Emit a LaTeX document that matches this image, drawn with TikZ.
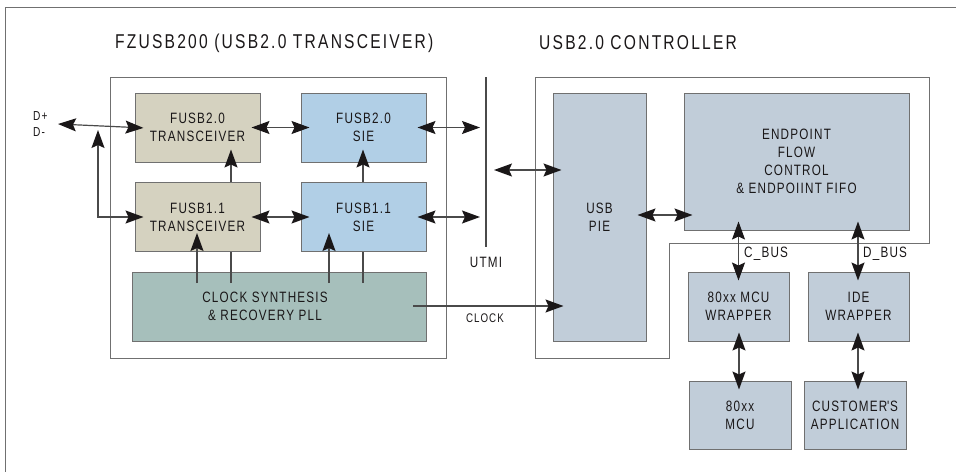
\documentclass[tikz,border=0pt]{standalone}
\usepackage{fontspec}
\setmainfont{Liberation Sans}[FakeStretch=0.78,LetterSpace=8]
\usetikzlibrary{arrows.meta}
\definecolor{trcol}{HTML}{D5D2C0}
\definecolor{siecol}{HTML}{B1CFE6}
\definecolor{pllcol}{HTML}{A6BFBB}
\definecolor{ctlcol}{HTML}{C1CDD9}
\definecolor{boxline}{HTML}{707070}
\definecolor{wire}{HTML}{4A4A4A}
\definecolor{ink}{HTML}{1A1718}
\newcommand{\bothways}{{Stealth[length=18pt,width=13pt,inset=3pt,color=ink]}-{Stealth[length=18pt,width=13pt,inset=3pt,color=ink]}}
\tikzset{%
  >={Stealth[length=18pt,width=13pt,inset=3pt,color=ink]},
  % Specifications for style of nodes:
            base/.style = {rectangle, draw=boxline, line width=1pt,
                           inner sep=0pt, align=center, text=ink,
                           font=\fontsize{15}{18}\selectfont},
		trstyle/.style = {base, fill=trcol, minimum width=125pt, minimum height=69pt},
		siestyle/.style = {base, fill=siecol, minimum width=125pt, minimum height=69pt},
		pllstyle/.style = {base, fill=pllcol, minimum width=294pt, minimum height=69pt},
		ctlstyle/.style = {base, fill=ctlcol, minimum width=101pt, minimum height=69pt},
		groupstyle/.style = {draw=boxline, line width=1pt},
		wirestyle/.style = {draw=wire, line width=1.2pt},
		busstyle/.style = {wirestyle, \bothways, shorten <=-9pt, shorten >=-9pt},
		feedstyle/.style = {wirestyle, ->, shorten >=-13pt},
		textstyle/.style = {text=ink, inner sep=0pt, align=center,
                           font=\fontsize{15}{18}\selectfont},
		smallstyle/.style = {textstyle, font=\fontsize{12.5}{15}\selectfont},
		titlestyle/.style = {textstyle, anchor=west,
                           font=\fontsize{20}{24}\selectfont\addfontfeature{LetterSpace=11}},
}
\begin{document}
\begin{tikzpicture}[x=1pt, y=-1pt]
  \useasboundingbox (0,0) rectangle (956,472);
  \draw[groupstyle] (956,7) -- (5,7) -- (5,472);

  % Titles and group outlines
  \node (ttl) [titlestyle] at (115,43) {FZUSB200 (USB2.0 TRANSCEIVER)};
  \node (ttr) [titlestyle] at (539,43) {USB2.0 CONTROLLER};
  \draw[groupstyle] (110,77) rectangle (446,358);
  \draw[groupstyle] (535,77) -- (929,77) -- (929,243) -- (669,243)
    -- (669,358) -- (535,358) -- cycle;

  % Specification of nodes (position, etc.)
  \node (tr20)  [trstyle]  at (197.5,127.5) {FUSB2.0\\TRANSCEIVER};
  \node (sie20) [siestyle] at (363.5,127.5) {FUSB2.0\\SIE};
  \node (tr11)  [trstyle]  at (197.5,217)   {FUSB1.1\\TRANSCEIVER};
  \node (sie11) [siestyle] at (363.5,217)   {FUSB1.1\\SIE};
  \node (pll)   [pllstyle] at (279,306.5)   {};
  \node (plltxt) [textstyle] at (265,306)   {CLOCK SYNTHESIS\\\&\ RECOVERY PLL};

  \node (pie)  [ctlstyle, minimum width=93pt, minimum height=248pt] at (599.5,217) {USB\\PIE};
  \node (ep)   [ctlstyle, minimum width=225pt, minimum height=137pt] at (796.5,161.5)
               {ENDPOINT\\FLOW\\CONTROL\\\&\ ENDPOIINT FIFO};
  \node (mcuw) [ctlstyle] at (738.5,306.5) {80xx MCU\\WRAPPER};
  \node (idew) [ctlstyle] at (858.5,306.5) {IDE\\WRAPPER};
  \node (mcu)  [ctlstyle, minimum width=102pt, minimum height=68pt] at (740,415) {80xx\\MCU};
  \node (app)  [ctlstyle, minimum width=102pt, minimum height=68pt] at (855,415)
               {CUSTOMER\textquotesingle S\\APPLICATION};

  \node (dpm) [textstyle, align=left, anchor=west, font=\fontsize{13}{15.5}\selectfont]
               at (33,124) {D+\\D-};
  \coordinate (dplus) at (58,124);
  \coordinate (dsplit) at (98,130);
  \coordinate (utmitop) at (486,77);
  \coordinate (utmibot) at (486,247);
  \coordinate (clkout) at (413,306);
  \node (utmi) [textstyle] at (486,262) {UTMI};
  \node (clk)  [smallstyle] at (485,318) {CLOCK};

  % Specification of lines between nodes specified above
	\draw[busstyle, shorten <=0pt]	(dplus) -- 		(tr20.west);
	\draw[busstyle, shorten <=0pt]	(dsplit) |- 		(tr11.west);
	\draw[busstyle]	(tr20) -- 			(sie20);
	\draw[busstyle]	(tr11) -- 			(sie11);
	\draw[busstyle, shorten >=6pt]	(sie20.east) -- (sie20.east -| utmitop);
	\draw[busstyle, shorten >=6pt]	(sie11.east) -- (sie11.east -| utmitop);
	\draw[wirestyle]	(utmitop) -- 		(utmibot);
	\draw[feedstyle]	(tr11.north -| 231,0) -- (tr20.south -| 231,0);
	\draw[feedstyle]	(sie11.north -| 363,0) -- (sie20.south -| 363,0);
	\draw[feedstyle, shorten >=-19pt]	(197,283) -- 		(tr11.south -| 197,0);
	\draw[wirestyle]	(231,283) -- 			(tr11.south -| 231,0);
	\draw[feedstyle, shorten >=-19pt]	(329,283) -- 		(sie11.south -| 329,0);
	\draw[wirestyle]	(363,283) -- 			(sie11.south -| 363,0);
	\draw[feedstyle, shorten >=-11pt]	(clkout) -- 		(pie.west |- clkout);
	\draw[busstyle, shorten <=0pt]	(494,170) -- 	(pie.west |- 0,170);
	\draw[busstyle]	(pie.east |- 0,215) -- 	(ep.west |- 0,215);
	\draw[busstyle]	(ep.south -| mcuw) -- 	(mcuw.north);
	\draw[busstyle]	(ep.south -| 858,0) -- 	(idew.north -| 858,0);
	\draw[busstyle]	(mcuw.south -| 739,0) -- 	(mcu.north -| 739,0);
	\draw[busstyle]	(idew.south -| 858,0) -- 	(app.north -| 858,0);
  \node (cbus) [textstyle, anchor=west] at (744,254) {C\_BUS};
  \node (dbus) [textstyle, anchor=west] at (863,254) {D\_BUS};
\end{tikzpicture}
\end{document}
